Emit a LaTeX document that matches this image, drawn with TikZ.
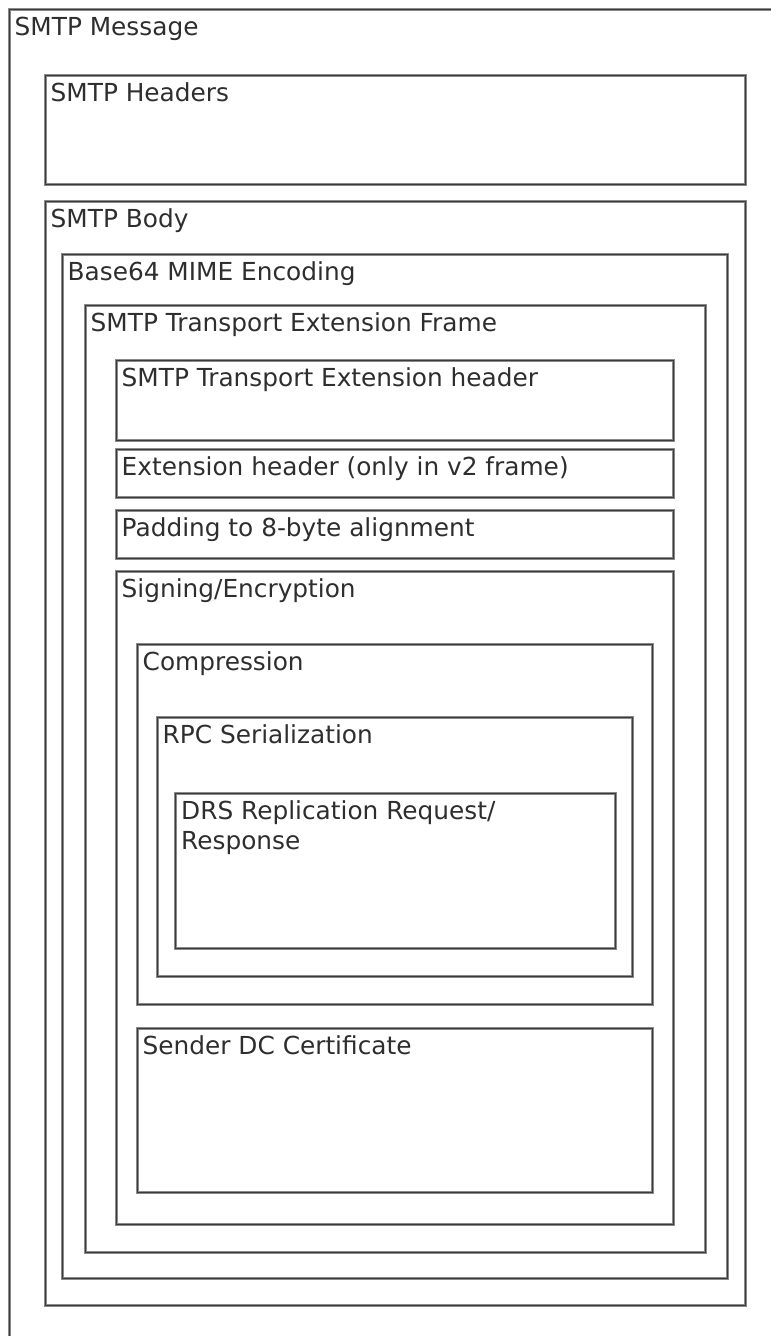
\documentclass[tikz,border=0pt]{standalone}
\usepackage{fontspec}
\setmainfont{DejaVu Sans}
\definecolor{edge}{HTML}{3A3A3A}
\definecolor{shade}{HTML}{8A8A8A}
\tikzset{
  shadowline/.style={draw=shade, line width=3pt},
  frame/.style={draw=edge, line width=1pt, inner sep=0pt, outer sep=0pt},
  lbl/.style={anchor=base west, inner sep=0pt, text=black!82, font=\fontsize{24.8}{30}\selectfont, align=left},
}
% #1 name, #2 x1, #3 y1, #4 x2, #5 y2, #6 label
\newcommand\layerbox[6]{%
  \draw[shadowline] (#2,#3) rectangle (#4,#5);
  \node[frame, anchor=north west, minimum width={(#4-#2)*1pt}, minimum height={(#5-#3)*1pt}] (#1) at (#2,#3) {};
  \node[lbl] (#1-t) at ({#2+5.5},{#3+26}) {#6};
}
\begin{document}
\begin{tikzpicture}[x=1pt,y=-1pt]
\useasboundingbox (0,0) rectangle (771,1336);
\begin{scope}
\clip (0,0) rectangle (771,1336);
\layerbox{msg}{9}{9}{820}{1400}{SMTP Message}
\end{scope}
\layerbox{hdr}{45}{75}{745}{184}{SMTP Headers}
\layerbox{body}{45}{201}{745}{1305}{SMTP Body}
\layerbox{b64}{62}{254}{727}{1278}{Base64 MIME Encoding}
\layerbox{frm}{85}{305}{705}{1252}{SMTP Transport Extension Frame}
\layerbox{teh}{116}{360}{673}{440}{SMTP Transport Extension header}
\layerbox{ext}{116}{449}{673}{497}{Extension header (only in v2 frame)}
\layerbox{pad}{116}{510}{673}{558}{Padding to 8-byte alignment}
\layerbox{sig}{116}{571}{673}{1224}{Signing/Encryption}
\layerbox{cmp}{137}{644}{652}{1004}{Compression}
\layerbox{rpc}{157}{717}{632}{976}{RPC Serialization}
\draw[shadowline] (175,793) rectangle (615,948);
\node[frame, anchor=north west, minimum width=440pt, minimum height=155pt] (drs) at (175,793) {};
\node[lbl, anchor=north west, text depth=0pt] (drs-t) at (181,800) {DRS Replication Request/\\Response};
\layerbox{cert}{137}{1028}{652}{1192}{Sender DC Certificate}
\end{tikzpicture}
\end{document}
